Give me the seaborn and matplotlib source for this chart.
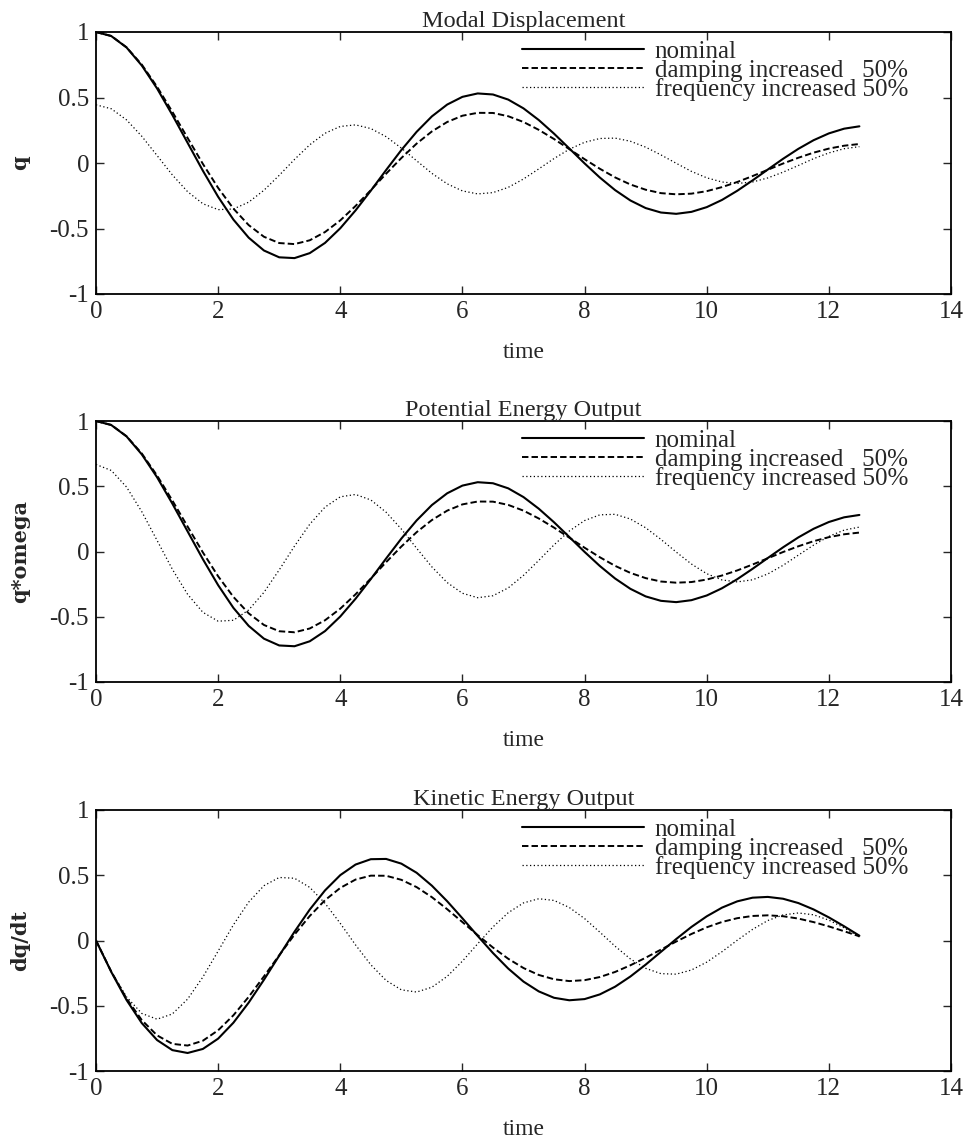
import numpy as np
import pandas as pd
import matplotlib
matplotlib.use("Agg")
import matplotlib.pyplot as plt
import seaborn as sns

# ---------------- data ----------------
time = np.linspace(0, 12.5, 51)

q_nominal = [1.000, 0.969, 0.882, 0.744, 0.569, 0.367, 0.154, -0.059, -0.258, -0.432,
             -0.570, -0.668, -0.720, -0.726, -0.688, -0.610, -0.498, -0.362, -0.211, -0.054,
             0.099, 0.238, 0.356, 0.446, 0.505, 0.531, 0.523, 0.484, 0.417, 0.328,
             0.224, 0.111, -0.003, -0.111, -0.207, -0.286, -0.344, -0.378, -0.388, -0.373,
             -0.337, -0.282, -0.212, -0.133, -0.050, 0.032, 0.108, 0.174, 0.226, 0.262, 0.280]
q_damping = [1.000, 0.970, 0.883, 0.751, 0.582, 0.391, 0.191, -0.007, -0.190, -0.348,
             -0.474, -0.563, -0.611, -0.619, -0.590, -0.527, -0.438, -0.328, -0.207, -0.082,
             0.038, 0.148, 0.241, 0.313, 0.361, 0.383, 0.382, 0.357, 0.313, 0.253,
             0.183, 0.106, 0.029, -0.044, -0.110, -0.164, -0.204, -0.230, -0.239, -0.234,
             -0.215, -0.184, -0.145, -0.100, -0.052, -0.004, 0.040, 0.079, 0.110, 0.132, 0.145]
q_frequency = [0.444, 0.414, 0.329, 0.204, 0.057, -0.091, -0.219, -0.311, -0.356, -0.351,
               -0.299, -0.208, -0.094, 0.027, 0.139, 0.227, 0.279, 0.291, 0.263, 0.201,
               0.114, 0.017, -0.079, -0.159, -0.213, -0.236, -0.226, -0.186, -0.122, -0.045,
               0.034, 0.105, 0.158, 0.187, 0.190, 0.166, 0.121, 0.062, -0.002, -0.064,
               -0.113, -0.145, -0.156, -0.145, -0.114, -0.070, -0.019, 0.033, 0.077, 0.109, 0.125]

pe_nominal = q_nominal
pe_damping = q_damping
pe_frequency = [0.667, 0.621, 0.494, 0.305, 0.085, -0.136, -0.328, -0.466, -0.534, -0.527,
                -0.448, -0.313, -0.141, 0.041, 0.209, 0.340, 0.419, 0.437, 0.395, 0.301,
                0.172, 0.025, -0.118, -0.238, -0.320, -0.354, -0.339, -0.279, -0.183, -0.068,
                0.051, 0.157, 0.237, 0.281, 0.285, 0.249, 0.182, 0.093, -0.004, -0.096,
                -0.170, -0.218, -0.233, -0.217, -0.172, -0.106, -0.028, 0.049, 0.116, 0.164, 0.187]

ke_nominal = [0.000, -0.241, -0.456, -0.633, -0.763, -0.840, -0.862, -0.831, -0.752, -0.630,
              -0.476, -0.301, -0.116, 0.067, 0.237, 0.384, 0.501, 0.582, 0.623, 0.625,
              0.589, 0.519, 0.420, 0.301, 0.170, 0.035, -0.096, -0.215, -0.315, -0.390,
              -0.439, -0.458, -0.449, -0.413, -0.354, -0.276, -0.185, -0.087, 0.011, 0.104,
              0.185, 0.252, 0.300, 0.328, 0.334, 0.320, 0.287, 0.238, 0.177, 0.109, 0.037]
ke_damping = [0.000, -0.238, -0.445, -0.610, -0.727, -0.792, -0.805, -0.768, -0.688, -0.573,
              -0.432, -0.275, -0.113, 0.045, 0.188, 0.309, 0.403, 0.467, 0.497, 0.496,
              0.465, 0.409, 0.332, 0.240, 0.141, 0.041, -0.054, -0.140, -0.211, -0.264,
              -0.297, -0.311, -0.304, -0.280, -0.241, -0.190, -0.132, -0.070, -0.008, 0.050,
              0.101, 0.142, 0.171, 0.188, 0.193, 0.186, 0.168, 0.141, 0.108, 0.071, 0.032]
ke_frequency = [0.000, -0.238, -0.432, -0.559, -0.603, -0.563, -0.449, -0.280, -0.081, 0.120,
                0.294, 0.420, 0.483, 0.477, 0.407, 0.285, 0.131, -0.034, -0.186, -0.306,
                -0.378, -0.395, -0.358, -0.275, -0.158, -0.025, 0.104, 0.213, 0.288, 0.320,
                0.307, 0.253, 0.168, 0.064, -0.044, -0.141, -0.213, -0.254, -0.258, -0.226,
                -0.166, -0.086, 0.002, 0.085, 0.153, 0.196, 0.211, 0.197, 0.156, 0.097, 0.027]

series_labels = ["nominal", "damping increased   50%", "frequency increased 50%"]
titles = ["Modal Displacement", "Potential Energy Output", "Kinetic Energy Output"]
ylabels = ["q", "q*omega", "dq/dt"]
xlabel = "time"
xticks = [0, 2, 4, 6, 8, 10, 12, 14]
yticks = [-1, -0.5, 0, 0.5, 1]
ytick_labels = ["-1", "-0.5", "0", "0.5", "1"]

panels = [
    (q_nominal, q_damping, q_frequency),
    (pe_nominal, pe_damping, pe_frequency),
    (ke_nominal, ke_damping, ke_frequency),
]

# ---------------- style ----------------
sns.set_style("ticks")
plt.rcParams["font.family"] = ["Liberation Serif", "DejaVu Serif"]
plt.rcParams["axes.linewidth"] = 1.3
plt.rcParams["xtick.direction"] = "in"
plt.rcParams["ytick.direction"] = "in"

line_styles = [
    dict(linestyle="-", linewidth=1.5),
    dict(linestyle=(0, (3.3, 1.6)), linewidth=1.4),
    dict(linestyle=(0, (1.0, 2.0)), linewidth=0.9),
]

fig = plt.figure(figsize=(9.68, 11.43), dpi=100)
left, width = 96 / 968, 855 / 968
positions = [
    [left, 1 - 294 / 1143, width, 262 / 1143],
    [left, 1 - 682 / 1143, width, 261 / 1143],
    [left, 1 - 1071 / 1143, width, 261 / 1143],
]

tick_fs = 18
for i, (series, pos) in enumerate(zip(panels, positions)):
    ax = fig.add_axes(pos)
    for vals, lab, st in zip(series, series_labels, line_styles):
        df = pd.DataFrame({"time": time, "value": vals})
        sns.lineplot(data=df, x="time", y="value", ax=ax, color="black",
                     label=lab, estimator=None, sort=False, **st)
    ax.set_xlim(0, 14)
    ax.set_ylim(-1, 1)
    ax.set_xticks(xticks)
    ax.set_xticklabels([str(x) for x in xticks], fontsize=tick_fs)
    ax.set_yticks(yticks)
    ax.set_yticklabels(ytick_labels, fontsize=tick_fs)
    ax.tick_params(axis="both", which="both", direction="in", length=6, width=1.0,
                   top=True, right=True)
    ax.tick_params(axis="x", pad=5)
    ax.tick_params(axis="y", pad=5)
    for sp in ax.spines.values():
        sp.set_visible(True)
        sp.set_color("black")
    ax.set_title(titles[i], fontsize=17.5, pad=2)
    ax.set_xlabel(xlabel, fontsize=17, labelpad=14)
    ax.set_ylabel(ylabels[i], fontsize=15, fontweight="bold",
                  family=["DejaVu Serif"], labelpad=14)
    ax.legend(loc="upper left", bbox_to_anchor=(0.498, 0.968), frameon=False,
              handlelength=4.9, handletextpad=0.42, labelspacing=-0.15,
              borderpad=0, borderaxespad=0, fontsize=18)

fig.savefig("out.png", dpi=100)
